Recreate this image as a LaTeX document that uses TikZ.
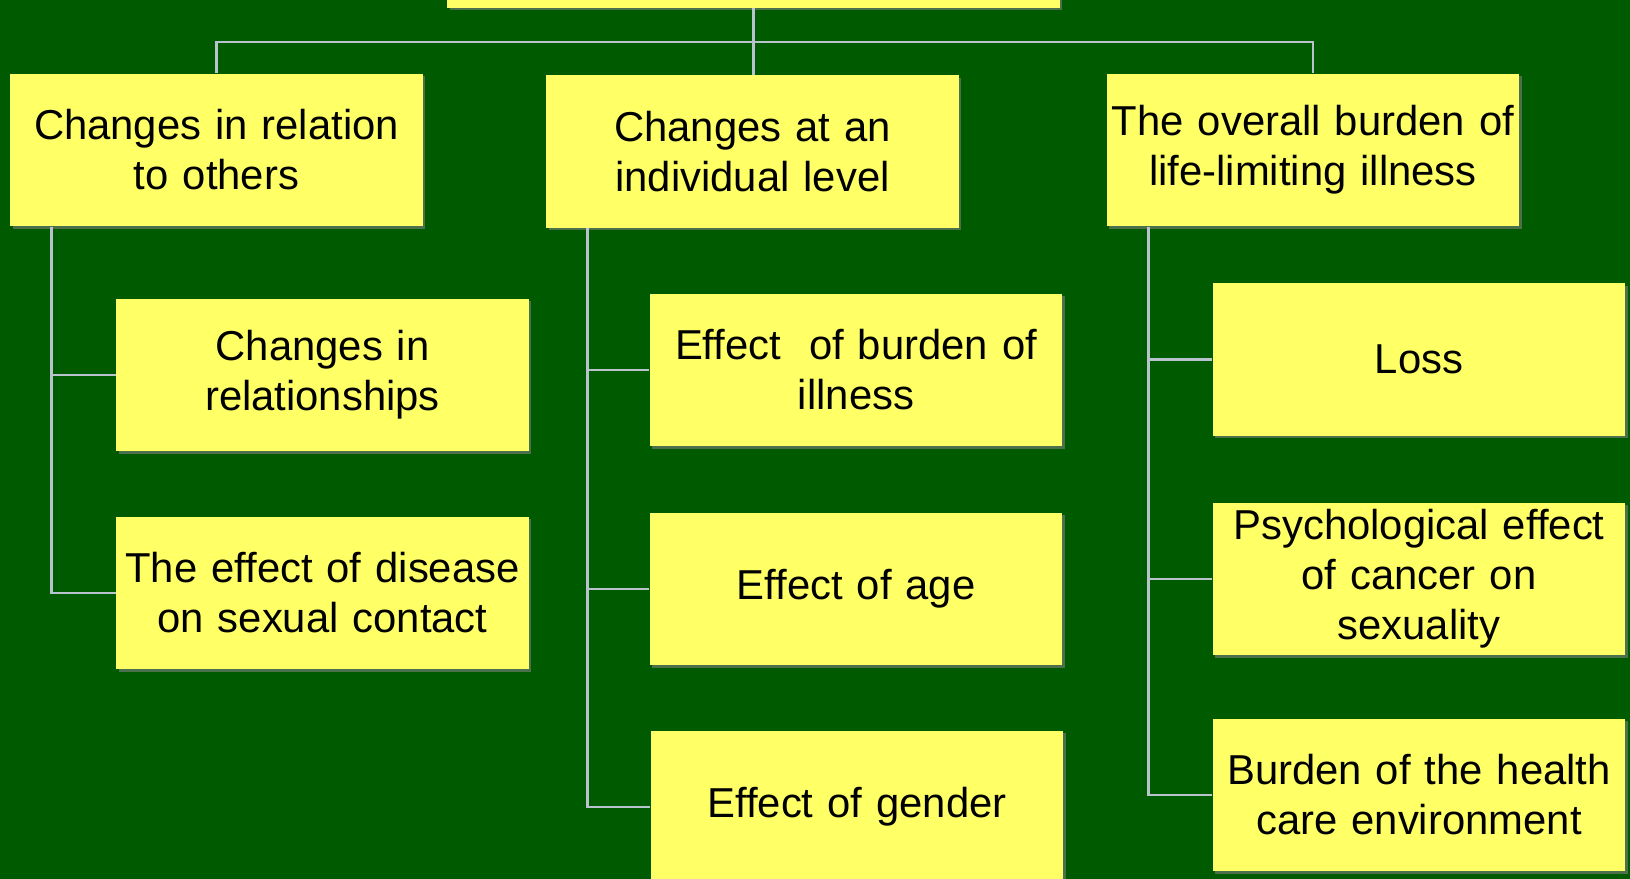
\documentclass[tikz,border=0pt]{standalone}
\usepackage{fontspec}
\setmainfont{Liberation Sans}
\usepackage{tikz}
\usetikzlibrary{shadows}

\definecolor{slidegreen}{RGB}{0,90,0}
\definecolor{boxyellow}{RGB}{255,255,102}
\definecolor{linkgray}{RGB}{185,195,205}

\tikzset{
	topic/.style={fill=boxyellow, minimum width=8.26cm, minimum height=3.06cm, inner sep=0pt,
		text width=8.1cm, align=center, font=\fontsize{23.8}{28.5}\selectfont,
		drop shadow={shadow xshift=0.05cm, shadow yshift=-0.05cm, opacity=0.6}},
	link/.style={draw=linkgray, line width=1.5pt}
}

\begin{document}
\begin{tikzpicture}[x=0.02cm, y=-0.02cm]
	\useasboundingbox (0,0) rectangle (1630,879);
	\clip (0,0) rectangle (1630,879);
	\fill[slidegreen] (0,0) rectangle (1630,879);
	% top row
	\node[topic, minimum width=12.26cm] (root) at (753.5,-68.5) {};
	\node[topic] (rel) at (216.5,150) {Changes in relation\\to others};
	\node[topic] (ind) at (752.5,151.5) {Changes at an\\individual level};
	\node[topic] (bur) at (1313,150) {The overall burden of\\life-limiting illness};
	% sub topics
	\foreach \n/\x/\y/\t in {rel1/322.5/375/{Changes in\\relationships},
			rel2/322.5/593/{The effect of disease\\on sexual contact},
			ind1/856/370/{Effect\ \ of burden of\\illness},
			ind2/856/589/{Effect of age},
			ind3/857/807/{Effect of gender},
			bur1/1419/359.5/{Loss},
			bur2/1419/579/{Psychological effect\\of cancer on\\sexuality},
			bur3/1419/795/{Burden of the health\\care environment}}
		\node[topic] (\n) at (\x,\y) {\t};
	% connectors
	\coordinate (hub) at (root.south |- 0,42);
	\draw[link] (root.south) -- (hub) -| (rel.north);
	\draw[link] (hub) -| (bur.north);
	\draw[link] (hub) -- (hub |- ind.north);
	\foreach \p/\c in {rel/rel1, rel/rel2, ind/ind1, ind/ind2, ind/ind3, bur/bur1, bur/bur2, bur/bur3}
		\draw[link] ([xshift=0.84cm]\p.south west) |- (\c.west);
\end{tikzpicture}
\end{document}
